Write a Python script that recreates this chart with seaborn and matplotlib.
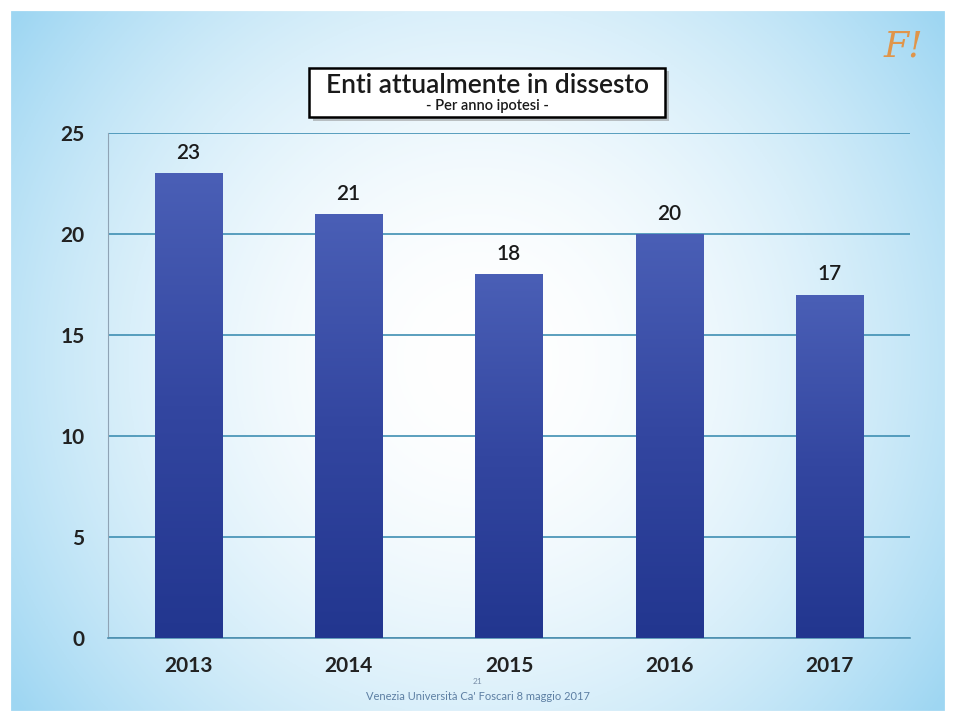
import numpy as np
import pandas as pd
import matplotlib
matplotlib.use("Agg")
import matplotlib.pyplot as plt
import seaborn as sns

# Dati
anni = ["2013", "2014", "2015", "2016", "2017"]
enti = [23, 21, 18, 20, 17]
tick_y = [0, 5, 10, 15, 20, 25]

df = pd.DataFrame({"anno": anni, "enti": enti})

sns.set_style("white")
plt.rcParams["font.family"] = ["Lato", "DejaVu Sans"]

fig = plt.figure(figsize=(9.56, 7.22), dpi=100)

# Sfondo: sfumatura azzurra con centro bianco
bg = fig.add_axes([0, 0, 1, 1], zorder=-10)
xx, yy = np.meshgrid(np.linspace(-1, 1, 400), np.linspace(-1, 1, 300))
r = np.sqrt((xx / 1.0) ** 2 + (yy / 1.35) ** 2)
r = np.clip(r, 0, 1.2) / 1.2
c_in = np.array([1.0, 1.0, 1.0])
c_out = np.array([0.62, 0.84, 0.95])
img = c_in + (c_out - c_in) * (r[..., None] ** 1.9)
bg.imshow(img, extent=[0, 1, 0, 1], aspect="auto", origin="lower")
bg.add_patch(plt.Rectangle((0, 0), 1, 1, fill=False, ec="white", lw=16))
bg.set_xlim(0, 1)
bg.set_ylim(0, 1)
bg.axis("off")

ax = fig.add_axes([0.113, 0.116, 0.839, 0.70])
ax.set_facecolor("none")
sns.barplot(data=df, x="anno", y="enti", color="#3447a0", width=0.42,
            saturation=1, linewidth=0, ax=ax, zorder=3)

# Sfumatura sulle barre
grad = np.linspace(0, 1, 256)[:, None]
cmap = matplotlib.colors.LinearSegmentedColormap.from_list(
    "barre", ["#22368f", "#3346a0", "#4a5fb6"])
for p in ax.patches:
    x0, y0 = p.get_x(), p.get_y()
    w, h = p.get_width(), p.get_height()
    im = ax.imshow(grad, cmap=cmap, extent=[x0, x0 + w, y0, y0 + h],
                   origin="lower", aspect="auto", zorder=3.5)
    im.set_clip_path(p)

for i, v in enumerate(enti):
    ax.text(i, v + 0.5, str(v), ha="center", va="bottom",
            fontsize=15, fontweight="semibold", color="#1a1a1a", zorder=5)

ax.set_xlim(-0.5, 4.5)
ax.set_ylim(0, 25)
ax.set_yticks(tick_y)
ax.set_yticklabels([str(t) for t in tick_y], fontsize=15, fontweight="bold",
                   color="#222222")
ax.set_xticks(range(len(anni)))
ax.set_xticklabels(anni, fontsize=15, fontweight="bold", color="#222222")
ax.tick_params(axis="y", pad=17, length=0)
ax.tick_params(axis="x", pad=13, length=0)
ax.set_xlabel("")
ax.set_ylabel("")
ax.yaxis.grid(True, color="#3f8fb3", lw=1.2, zorder=1)
ax.set_axisbelow(True)
for s in ["top", "right"]:
    ax.spines[s].set_visible(False)
ax.spines["left"].set_color("#8fa3b5")
ax.spines["bottom"].set_color("#4f90b0")
ax.spines["bottom"].set_linewidth(1.2)

# Titolo nel riquadro (con ombra)
bg.add_patch(plt.Rectangle((0.327, 0.832), 0.373, 0.070, fc="#8a8a8a",
                           ec="none", alpha=0.5))
bg.add_patch(plt.Rectangle((0.323, 0.838), 0.373, 0.068, fc="white",
                           ec="black", lw=1.8))
fig.text(0.51, 0.881, "Enti attualmente in dissesto", ha="center",
         va="center", fontsize=19, fontweight="semibold", color="#1a1a1a")
fig.text(0.51, 0.853, "- Per anno ipotesi -", ha="center", va="center",
         fontsize=10.5, fontweight="semibold", color="#1a1a1a")

# Logo e piè di pagina
fig.text(0.945, 0.935, "F!", ha="center", va="center", fontsize=26,
         style="italic", color="#e0954a", family=["DejaVu Serif"])
fig.text(0.5, 0.056, "21", ha="center", va="center", fontsize=6,
         color="#7a8fa8")
fig.text(0.5, 0.035, "Venezia Università Ca' Foscari 8 maggio 2017",
         ha="center", va="center", fontsize=8, color="#5d7fa3")

fig.savefig("out.png", dpi=100)
